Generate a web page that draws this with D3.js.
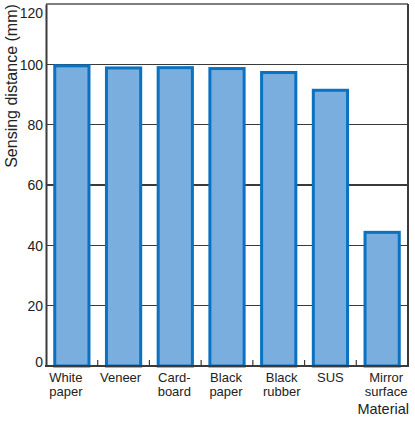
<!DOCTYPE html>
<html>
<head>
<meta charset="utf-8">
<script src="https://cdn.jsdelivr.net/npm/d3@7"></script>
<style>
  html, body { margin: 0; padding: 0; background: #fff; }
  svg { display: block; font-family: "Liberation Sans", Arial, sans-serif; }
</style>
</head>
<body>
<div id="chart"></div>
<script>
// ---- data ----
const categories = [
  ["White", "paper"],
  ["Veneer"],
  ["Card-", "board"],
  ["Black", "paper"],
  ["Black", "rubber"],
  ["SUS"],
  ["Mirror", "surface"]
];
const sensingDistance = [100, 99.3, 99.4, 99.1, 97.8, 91.9, 44.8];
const yTicks = [0, 20, 40, 60, 80, 100, 120];
const yLabel = "Sensing distance (mm)";
const xLabel = "Material";

(function () {
// ---- layout ----
const W = 415, H = 432;
const pLeft = 46, pRight = 408, pTop = 4, pBottom = 366;
const labelNudge = [-6, -3, -1, -1, 3, 0, 4];

const svg = d3.select("#chart").append("svg")
  .attr("width", W).attr("height", H);

const keys = categories.map((c, i) => i);
const x = d3.scaleBand().domain(keys).range([pLeft, pRight])
  .paddingInner(0.28).paddingOuter(0.14);
const y = d3.scaleLinear().domain([0, 120]).range([pBottom, pTop]);

// gridlines
svg.append("g").selectAll("line")
  .data(yTicks.filter(t => t > 0 && t < 120))
  .join("line")
  .attr("x1", pLeft).attr("x2", pRight)
  .attr("y1", d => y(d)).attr("y2", d => y(d))
  .attr("stroke", "#3a3a3a").attr("stroke-width", 1.2)
  .attr("shape-rendering", "crispEdges");

// bars
const sw = 3;
svg.append("g").selectAll("rect")
  .data(sensingDistance)
  .join("rect")
  .attr("x", (d, i) => x(i) + sw / 2)
  .attr("width", x.bandwidth() - sw)
  .attr("y", d => y(d) + sw / 2)
  .attr("height", d => pBottom - y(d) - sw / 2)
  .attr("fill", "#7aaedf")
  .attr("stroke", "#0a72c2")
  .attr("stroke-width", sw);

// frame: top and right
svg.append("line").attr("x1", pLeft).attr("x2", pRight)
  .attr("y1", y(120)).attr("y2", y(120))
  .attr("stroke", "#555").attr("stroke-width", 1.5);
svg.append("line").attr("x1", pRight).attr("x2", pRight)
  .attr("y1", y(120)).attr("y2", pBottom)
  .attr("stroke", "#3a3a3a").attr("stroke-width", 2);

// y axis
const yAxis = d3.axisLeft(y).tickValues(yTicks).tickSize(0).tickPadding(3);
const gy = svg.append("g").attr("transform", `translate(${pLeft},0)`).call(yAxis);
gy.select(".domain").attr("stroke", "#3a3a3a").attr("stroke-width", 2);
gy.selectAll("text")
  .attr("font-size", 14)
  .attr("fill", "#222")
  .attr("font-family", "Liberation Sans, Arial, sans-serif")
  .attr("dy", d => d === 120 ? "0.95em" : d === 0 ? "0.0em" : "0.35em");

// x axis line
svg.append("line").attr("x1", pLeft - 1).attr("x2", pRight + 1)
  .attr("y1", pBottom).attr("y2", pBottom)
  .attr("stroke", "#3a3a3a").attr("stroke-width", 2);

// x ticks between bars (pointing up)
const step = x.step();
const gapHalf = x.paddingInner() * step / 2;
svg.append("g").selectAll("line")
  .data(keys.slice(1))
  .join("line")
  .attr("x1", i => x(i) - gapHalf).attr("x2", i => x(i) - gapHalf)
  .attr("y1", pBottom - 6).attr("y2", pBottom)
  .attr("stroke", "#3a3a3a").attr("stroke-width", 1.2);

// category labels
const cl = svg.append("g").attr("font-size", 13).attr("fill", "#222");
categories.forEach((lines, i) => {
  const cx = x(i) + x.bandwidth() / 2 + labelNudge[i];
  const t = cl.append("text")
    .attr("text-anchor", "middle")
    .attr("x", cx)
    .attr("y", 382);
  lines.forEach((ln, j) => {
    t.append("tspan")
      .attr("x", cx)
      .attr("dy", j === 0 ? 0 : 14)
      .text(ln);
  });
});

// axis titles
svg.append("text")
  .attr("x", 409).attr("y", 414)
  .attr("text-anchor", "end")
  .attr("font-size", 14.5).attr("fill", "#222")
  .text(xLabel);

svg.append("text")
  .attr("transform", `translate(17,86) rotate(-90)`)
  .attr("text-anchor", "middle")
  .attr("font-size", 16).attr("fill", "#222")
  .text(yLabel);
})();
</script>
</body>
</html>
